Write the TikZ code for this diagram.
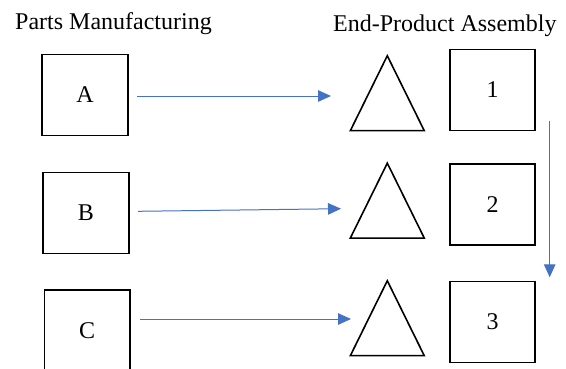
\documentclass[tikz,border=0pt]{standalone}
\usepackage{fontspec}
\setmainfont{Liberation Serif}
\usetikzlibrary{arrows.meta}
\definecolor{flowblue}{HTML}{4472C4}
\begin{document}
\begin{tikzpicture}[x=1pt,y=-1pt,
  txt/.style={font=\fontsize{24}{28}\selectfont},
  unitbox/.style={draw=black,line width=1.6pt,minimum width=85.5pt,minimum height=81pt,inner sep=0pt,txt},
  stockslot/.style={minimum width=73.5pt,minimum height=74.5pt,inner sep=0pt},
  flow/.style={draw=flowblue,line width=1pt,-{Triangle[length=13pt,width=11.5pt]}}]
\useasboundingbox (0,0) rectangle (566,368);

% column titles
\node[txt,anchor=base west,inner sep=0pt] (t1) at (15,29.5) {Parts Manufacturing};
\node[txt,anchor=base west,inner sep=0pt] (t2) at (333,31.5) {End-Product Assembly};

% parts manufacturing stations
\node[unitbox] (A) at (85,95) {A};
\node[unitbox] (B) at (86,213) {B};
\node[unitbox] (C) at (87.2,330.5) {C};

% inventory triangles
\node[stockslot] (s1) at (387.3,93.2) {};
\node[stockslot] (s2) at (387.3,200.6) {};
\node[stockslot] (s3) at (387.3,318.2) {};
\foreach \s in {s1,s2,s3}
  \draw[line width=1.6pt,line join=miter] (\s.south west) -- (\s.north) -- (\s.south east) -- cycle;

% assembly stations
\node[unitbox] (P1) at (492.5,90) {1};
\node[unitbox] (P2) at (492.5,204.7) {2};
\node[unitbox] (P3) at (492.5,321.8) {3};

% flow arrows
\coordinate (a0) at (137,96);   \coordinate (a1) at (331,96);
\coordinate (b0) at (138,211.3); \coordinate (b1) at (341,208.7);
\coordinate (c0) at (140,319);  \coordinate (c1) at (351,319);
\coordinate (d0) at (549.7,120.7); \coordinate (d1) at (549.7,277.3);
\draw[flow] (a0) -- (a1);
\draw[flow] (b0) -- (b1);
\draw[flow] (c0) -- (c1);
\draw[flow] (d0) -- (d1);
\end{tikzpicture}
\end{document}
